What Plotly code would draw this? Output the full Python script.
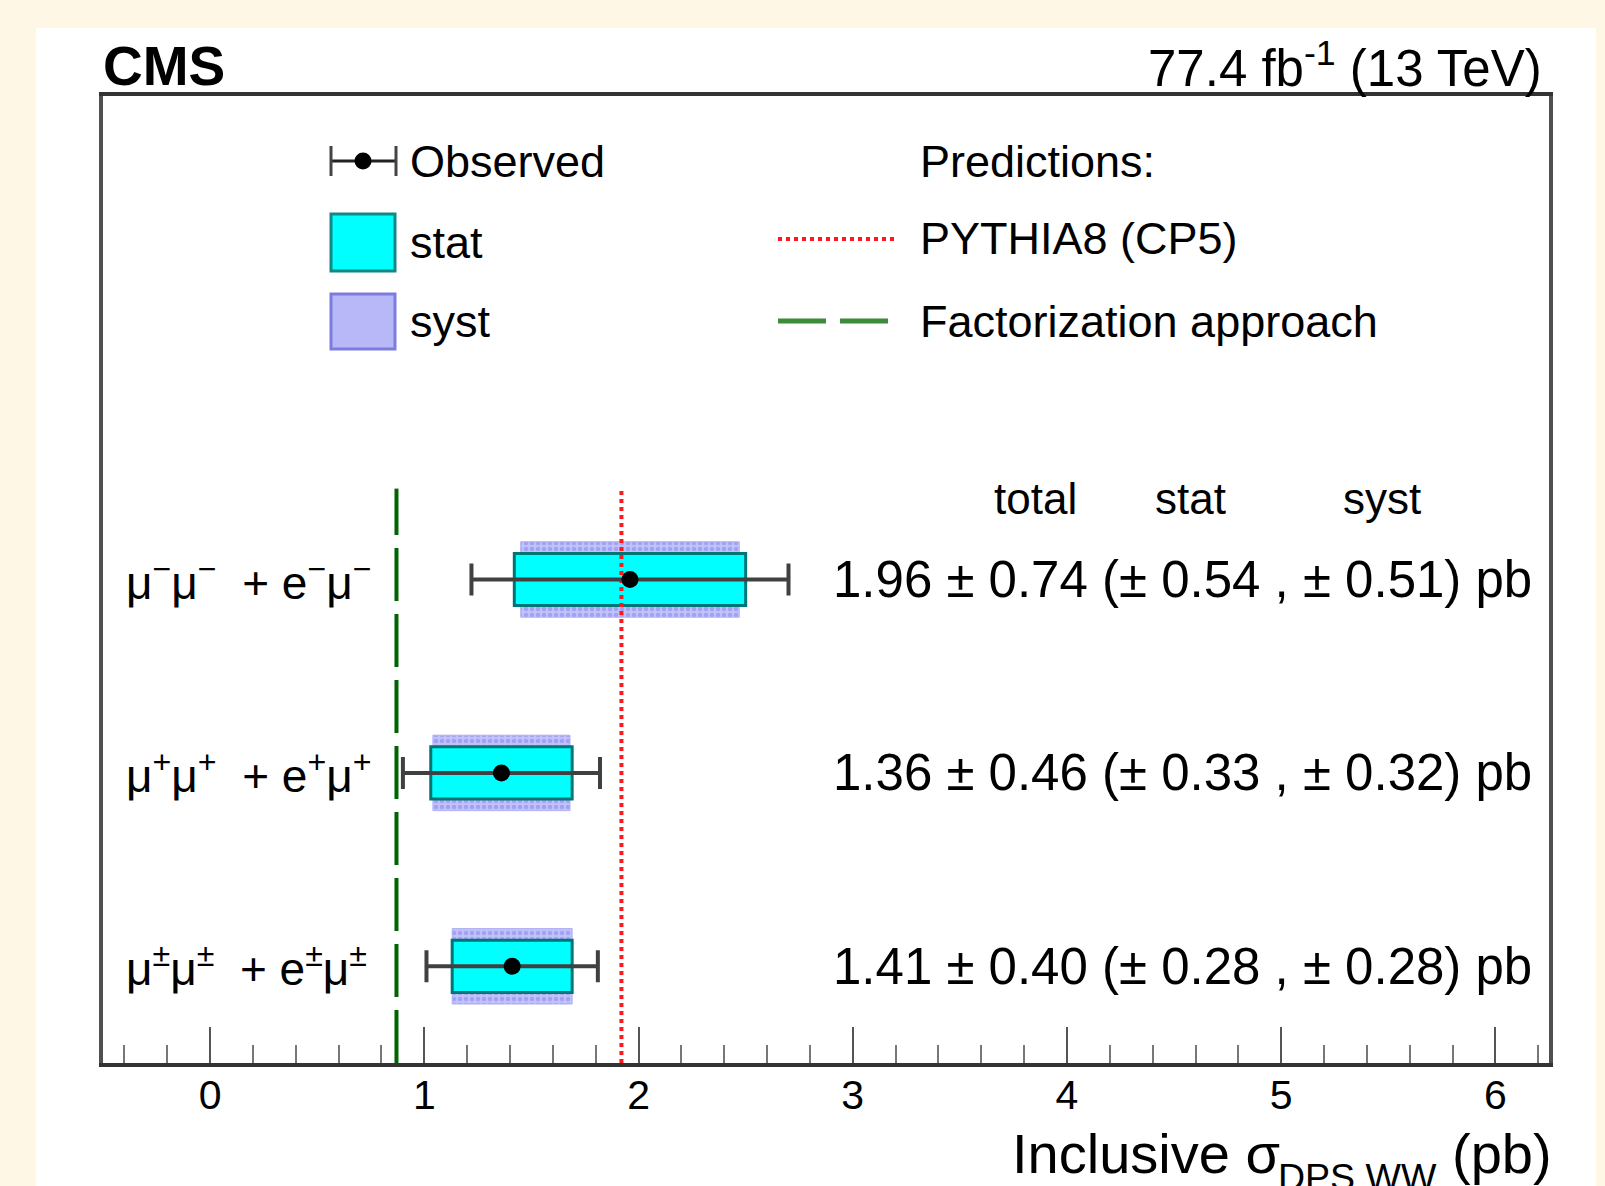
import plotly.graph_objects as go

# ---------------- data ----------------
channels = [
    "μ<sup>−</sup>μ<sup>−</sup>\u00a0 + e<sup>−</sup>μ<sup>−</sup>",
    "μ<sup>+</sup>μ<sup>+</sup>\u00a0 + e<sup>+</sup>μ<sup>+</sup>",
    "μ<sup>±</sup>μ<sup>±</sup>\u00a0 + e<sup>±</sup>μ<sup>±</sup>",
]
xsec = [1.96, 1.36, 1.41]
err_total = [0.74, 0.46, 0.40]
err_stat = [0.54, 0.33, 0.28]
err_syst = [0.51, 0.32, 0.28]
pred_pythia = 1.92
pred_factorization = 0.87
x_ticks = [0, 1, 2, 3, 4, 5, 6]

n = len(channels)
ypos = [n - i for i in range(n)]

FONT = "Liberation Sans, Arial, Helvetica, sans-serif"
W, H = 1605, 1186
L, R, T, B = 103, 56, 96, 123
PW, PH = W - L - R, H - T - B


def px(x):
    return (x - L) / PW


def py(y):
    return (H - B - y) / PH


fig = go.Figure()

# syst boxes
fig.add_trace(go.Bar(
    y=ypos, x=[2 * s for s in err_syst], base=[v - s for v, s in zip(xsec, err_syst)],
    orientation="h", width=0.39,
    marker=dict(color="#BBBBFA", line=dict(color="#B0B0F6", width=1),
                pattern=dict(shape=".", fgcolor="#A2A2F2", bgcolor="#C2C2FB",
                             size=6, solidity=0.45, fillmode="replace")),
    showlegend=False, hoverinfo="skip"))
# stat boxes
fig.add_trace(go.Bar(
    y=ypos, x=[2 * s for s in err_stat], base=[v - s for v, s in zip(xsec, err_stat)],
    orientation="h", width=0.27,
    marker=dict(color="#00FFFF", line=dict(color="#007575", width=3)),
    showlegend=False, hoverinfo="skip"))

# predictions
fig.add_trace(go.Scatter(
    x=[pred_pythia, pred_pythia], y=[0.5, 3.47], mode="lines",
    line=dict(color="#FF1a1a", width=4, dash="4px,4px"), showlegend=False))
fig.add_trace(go.Scatter(
    x=[pred_factorization, pred_factorization], y=[0.5, 3.47], mode="lines",
    line=dict(color="#006400", width=4, dash="53px,13px"), showlegend=False))

# observed
fig.add_trace(go.Scatter(
    x=xsec, y=ypos, mode="markers",
    marker=dict(color="black", size=17),
    error_x=dict(type="data", array=err_total, color="#404040", thickness=4, width=16),
    showlegend=False))

shapes = []
annotations = []

# white page area over cream background
shapes.append(dict(type="rect", xref="paper", yref="paper",
                   x0=px(36), x1=px(1596), y0=py(28), y1=py(1300),
                   fillcolor="white", line=dict(width=0), layer="below"))

# ---- legend (manual) ----
ly_obs = py(161)
shapes.append(dict(type="line", xref="paper", yref="paper", x0=px(330), x1=px(397),
                   y0=ly_obs, y1=ly_obs, line=dict(color="#222", width=3)))
for xx in (331, 396):
    shapes.append(dict(type="line", xref="paper", yref="paper", x0=px(xx), x1=px(xx),
                       y0=py(146), y1=py(176), line=dict(color="#444", width=3)))
shapes.append(dict(type="circle", xref="paper", yref="paper",
                   x0=px(363 - 8.5), x1=px(363 + 8.5), y0=py(161 + 8.5), y1=py(161 - 8.5),
                   fillcolor="black", line=dict(width=0)))
shapes.append(dict(type="rect", xref="paper", yref="paper", x0=px(331), x1=px(395),
                   y0=py(271), y1=py(214), fillcolor="#00FFFF",
                   line=dict(color="#108888", width=3)))
shapes.append(dict(type="rect", xref="paper", yref="paper", x0=px(331), x1=px(395),
                   y0=py(349), y1=py(294), fillcolor="#B8B8F8",
                   line=dict(color="#7C7CDE", width=3)))
shapes.append(dict(type="line", xref="paper", yref="paper", x0=px(778), x1=px(896),
                   y0=py(239), y1=py(239), line=dict(color="#FF1a1a", width=4, dash="4px,4px")))
shapes.append(dict(type="line", xref="paper", yref="paper", x0=px(778), x1=px(896),
                   y0=py(321), y1=py(321), line=dict(color="#3C8C3C", width=5, dash="48px,14px")))


def txt(x, y, s, size, xanchor="left", yanchor="middle", xref="paper", yref="paper", bold=False):
    annotations.append(dict(x=x, y=y, xref=xref, yref=yref, text=s, showarrow=False,
                            xanchor=xanchor, yanchor=yanchor,
                            font=dict(family=FONT, size=size, color="black",
                                      weight="bold" if bold else "normal")))


txt(px(408), py(161), "Observed", 45)
txt(px(408), py(243), "stat", 45)
txt(px(408), py(321), "syst", 45)
txt(px(918), py(161), "Predictions:", 45)
txt(px(918), py(239), "PYTHIA8 (CP5)", 45)
txt(px(918), py(321), "Factorization approach", 45)

# column headings
txt(px(1035), py(498), "total", 44, xanchor="center")
txt(px(1190), py(498), "stat", 44, xanchor="center")
txt(px(1382), py(498), "syst", 44, xanchor="center")

for i in range(n):
    txt(px(124), ypos[i], channels[i], 46, yref="y")
    s = f"{xsec[i]:.2f} ± {err_total[i]:.2f} (± {err_stat[i]:.2f} , ± {err_syst[i]:.2f}) pb"
    txt(px(831), ypos[i], s, 51, yref="y")

# header texts
txt(px(101), py(66), "CMS", 55, bold=True)
txt(px(1544), py(65), "77.4 fb<sup>-1</sup> (13 TeV)", 51, xanchor="right")

# x title (split so the subscript can sit low, as in the original)
txt(px(1010), py(1153), "Inclusive σ", 56)
txt(px(1276), py(1177), "DPS WW", 37.5)
txt(px(1554), py(1153), "(pb)", 56, xanchor="right")

fig.update_layout(
    width=W, height=H,
    margin=dict(l=L, r=R, t=T, b=B, pad=0),
    paper_bgcolor="#FFF7E5",
    plot_bgcolor="white",
    barmode="overlay",
    showlegend=False,
    shapes=shapes,
    annotations=annotations,
    font=dict(family=FONT, color="black"),
    xaxis=dict(range=[-0.5, 6.25], tickvals=x_ticks, ticks="inside", ticklen=36,
               tickwidth=2, tickcolor="#555", showline=True, linewidth=4,
               linecolor="#333", mirror=True, showgrid=False, zeroline=False,
               ticklabelstandoff=-7,
               tickfont=dict(family=FONT, size=41, color="black"),
               minor=dict(dtick=0.2, tick0=0, ticks="inside", ticklen=18,
                          tickwidth=2, tickcolor="#777", showgrid=False)),
    yaxis=dict(range=[0.5, 5.5], showticklabels=False, ticks="", showline=True,
               linewidth=4, linecolor="#505050", mirror=True, showgrid=False,
               zeroline=False),
)

fig.write_html("out.html", config={"displayModeBar": False},
               post_script="document.body.style.margin='0';")
